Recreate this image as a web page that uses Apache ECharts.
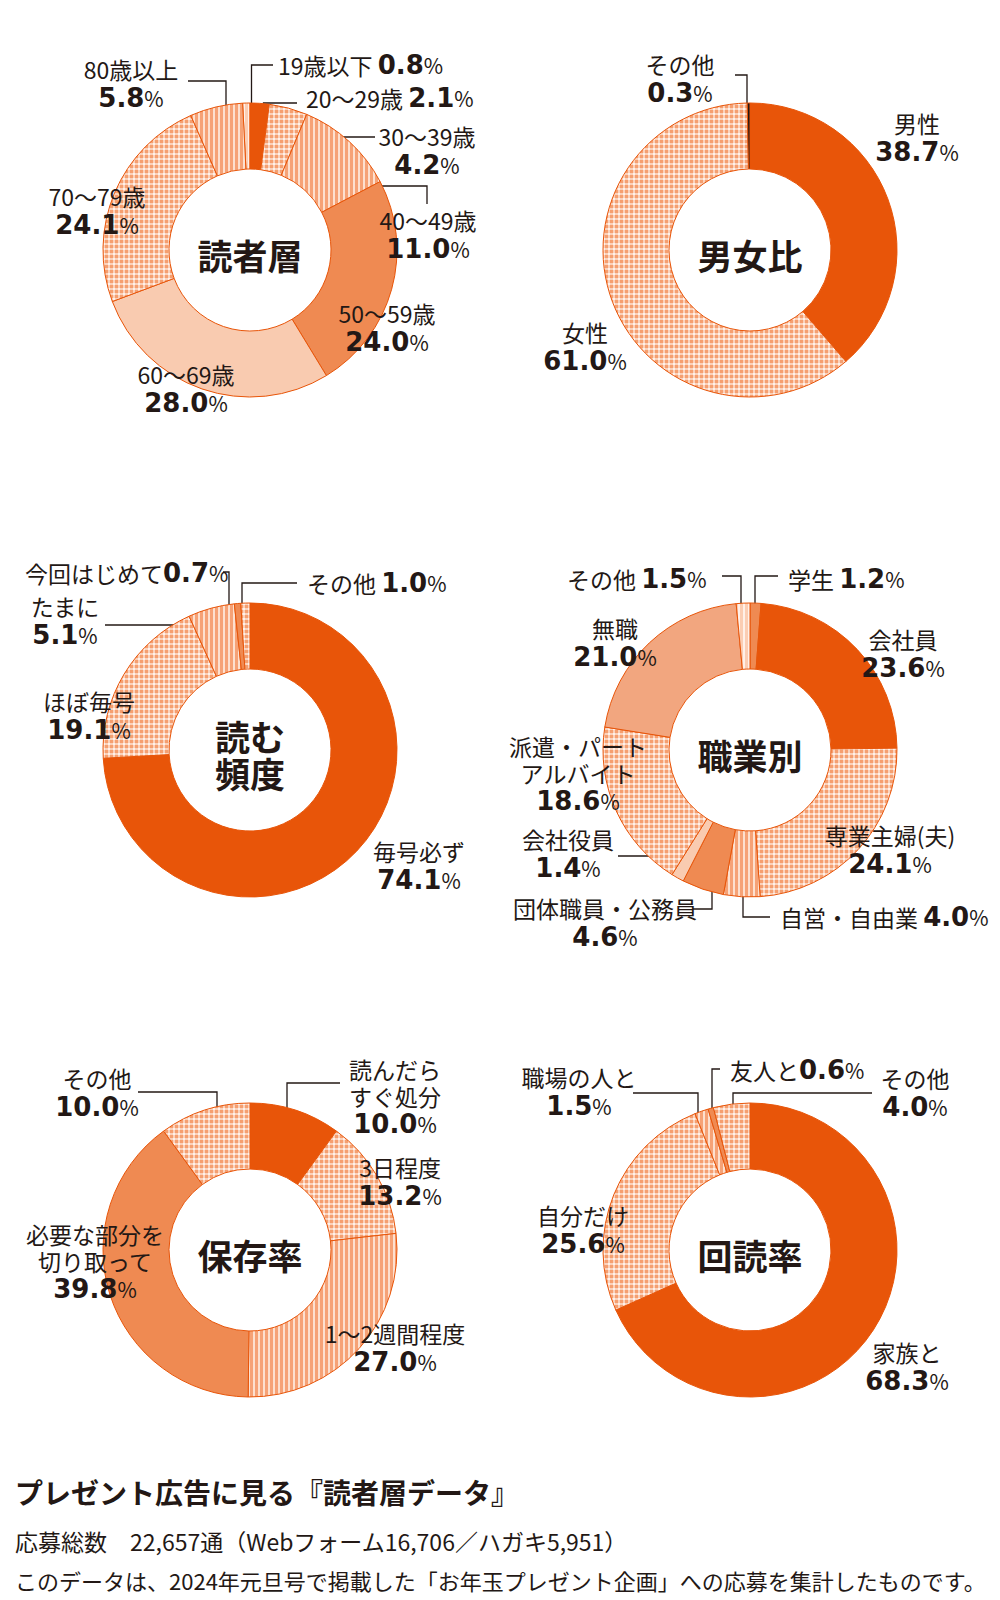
<!DOCTYPE html>
<html><head><meta charset="utf-8">
<script src="https://cdn.jsdelivr.net/npm/echarts@6/dist/echarts.min.js"></script>
<style>html,body{margin:0;padding:0;background:#fff}#c{width:1000px;height:1600px}</style>
</head><body><div id="c"></div>
<script>
// ---------- data ----------
const ageNames = ['19歳以下','20〜29歳','30〜39歳','40〜49歳','50〜59歳','60〜69歳','70〜79歳','80歳以上'];
const ageValues = [0.8, 2.1, 4.2, 11.0, 24.0, 28.0, 24.1, 5.8];
const genderNames = ['男性','女性','その他'];
const genderValues = [38.7, 61.0, 0.3];
const freqNames = ['毎号必ず','ほぼ毎号','たまに','今回はじめて','その他'];
const freqValues = [74.1, 19.1, 5.1, 0.7, 1.0];
const jobNames = ['学生','会社員','専業主婦(夫)','自営・自由業','団体職員・公務員','会社役員','派遣・パート\nアルバイト','無職','その他'];
const jobValues = [1.2, 23.6, 24.1, 4.0, 4.6, 1.4, 18.6, 21.0, 1.5];
const keepNames = ['読んだら\nすぐ処分','3日程度','1〜2週間程度','必要な部分を\n切り取って','その他'];
const keepValues = [10.0, 13.2, 27.0, 39.8, 10.0];
const shareNames = ['家族と','自分だけ','職場の人と','友人と','その他'];
const shareValues = [68.3, 25.6, 1.5, 0.6, 4.0];
const chartTitles = ['読者層','男女比','読む\n頻度','職業別','保存率','回読率'];
const footerTitle = 'プレゼント広告に見る『読者層データ』';
const footerLine1 = '応募総数　22,657通（Webフォーム16,706／ハガキ5,951）';
const footerLine2 = 'このデータは、2024年元旦号で掲載した「お年玉プレゼント企画」への応募を集計したものです。';

// ---------- styles ----------
const INK = '#231815';
const FONT = '"Noto Sans CJK JP", sans-serif';
const NUMFONT = '"DejaVu Sans", sans-serif';
const NAME_SIZE = 23, VAL_SIZE = 26, PCT_SIZE = 21;
function pat(w, h, draw) {
  const c = document.createElement('canvas'); c.width = w; c.height = h;
  const g = c.getContext('2d'); draw(g);
  return { image: c, repeat: 'repeat', imageWidth: w, imageHeight: h };
}
const fills = {
  S: '#e85509', M: '#ef8a52', L: '#f9cbb0', N: '#f2a67f', K: INK,
  D: pat(5, 5, g => {
    g.fillStyle = '#fbd2bb'; g.fillRect(0, 0, 5, 5);
    g.fillStyle = '#f59f70'; g.fillRect(0, 0, 3, 3);
    g.fillStyle = '#fff1ea'; g.fillRect(3, 3, 2, 2);
  }),
  T: pat(5, 5, g => { g.fillStyle = '#fde0cf'; g.fillRect(0, 0, 5, 5); g.fillStyle = '#f6a276'; g.fillRect(0, 0, 3, 5); }),
  P: pat(5, 5, g => { g.fillStyle = '#fff0e8'; g.fillRect(0, 0, 5, 5); g.fillStyle = '#fbcdb3'; g.fillRect(0, 0, 3, 5); })
};
const ageStyles = ['P','S','D','T','M','L','D','T'];
const genderStyles = ['S','D','K'];
const freqStyles = ['S','D','T','M','D'];
const jobStyles = ['M','S','D','T','M','L','D','N','P'];
const keepStyles = ['S','D','T','M','D'];
const shareStyles = ['S','D','T','M','D'];

// label placement (x,y = anchor; a = align; one = single line; sep = separator; line = leader points)
const ageLayout = [
  {x:278, y:65, a:'l', one:true, sep:' ', line:[[251.5,112],[251.5,65],[273,65]]},
  {x:306, y:98, a:'l', one:true, sep:' ', line:[[263.5,112],[263.5,103],[297,103]]},
  {x:427, y:151, line:[[290,137],[375,137]]},
  {x:428, y:235, line:[[329,186],[427,186],[427,204]]},
  {x:387, y:328},
  {x:186, y:389},
  {x:97, y:211},
  {x:131, y:84, line:[[188,81],[226,81],[226,117]]}
];
const genderLayout = [
  {x:917, y:138},
  {x:585, y:347},
  {x:680, y:79, line:[[735,75],[747,75],[747,103]]}
];
const freqLayout = [
  {x:419, y:866},
  {x:89, y:716},
  {x:65, y:621, line:[[105,625],[202,625]]},
  {x:25, y:573, a:'l', one:true, sep:'', line:[[223,572],[229,572],[229,610]]},
  {x:307, y:583, a:'l', one:true, sep:' ', line:[[242,610],[242,583],[297,583]]}
];
const jobLayout = [
  {x:788, y:579, a:'l', one:true, sep:' ', line:[[755,612],[755,576],[778,576]]},
  {x:903, y:654},
  {x:890, y:850},
  {x:780, y:917, a:'l', one:true, sep:' ', line:[[743,873],[743,917],[770,917]]},
  {x:605, y:923, line:[[693,909],[712,909],[712,863]]},
  {x:568, y:854, line:[[618,856],[683,856]]},
  {x:578, y:774},
  {x:615, y:643},
  {x:567, y:579, a:'l', one:true, sep:' ', line:[[722,576],[741,576],[741,612]]}
];
const keepLayout = [
  {x:395, y:1097, line:[[287,1127],[287,1083],[340,1083]]},
  {x:400, y:1182},
  {x:395, y:1348},
  {x:95, y:1262},
  {x:97, y:1093, line:[[138,1092],[217,1092],[217,1117]]}
];
const shareLayout = [
  {x:907, y:1367},
  {x:583, y:1230},
  {x:579, y:1092, line:[[633,1093],[698,1093],[698,1117]]},
  {x:730, y:1070, a:'l', one:true, sep:'', line:[[712,1117],[712,1069],[720,1069]]},
  {x:915, y:1093, line:[[733,1117],[733,1093],[872,1093]]}
];

const RICH = {
  n: {fontSize: NAME_SIZE, lineHeight: 27, fontFamily: FONT, color: INK},
  v: {fontSize: VAL_SIZE, lineHeight: 30, fontWeight: 'bold', fontFamily: NUMFONT, color: INK},
  p: {fontSize: PCT_SIZE, lineHeight: 30, fontFamily: FONT, color: INK}
};
const mctx = document.createElement('canvas').getContext('2d');
function tw(s, font) { mctx.font = font; return mctx.measureText(s).width; }
function labelWidth(name, value, L) {
  const nf = NAME_SIZE + 'px ' + FONT, vf = 'bold ' + VAL_SIZE + 'px ' + NUMFONT, pf = PCT_SIZE + 'px ' + FONT;
  const numW = tw(value.toFixed(1), vf) + tw('%', pf);
  const lines = name.split('\n').map(s => tw(s, nf));
  if (L.one) return Math.ceil(lines[0] + (L.sep ? tw(L.sep, nf) : 0) + numW + 2);
  return Math.ceil(Math.max(numW, ...lines) + 2);
}
function fmt(name, value, L) {
  const num = '{v|' + value.toFixed(1) + '}{p|%}';
  const nameRich = name.split('\n').map(s => '{n|' + s + '}').join('\n');
  return L.one ? nameRich + (L.sep ? '{n|' + L.sep + '}' : '') + num : nameRich + '\n' + num;
}
function makeSeries(names, values, styles, layout, center, startAngle) {
  return {
    type: 'pie', center: center, radius: [81, 147], startAngle: startAngle, clockwise: true,
    avoidLabelOverlap: false, silent: true, animation: false,
    itemStyle: {borderColor: '#e85509', borderWidth: 1},
    emphasis: {disabled: true},
    label: {
      show: true, position: 'outside', overflow: 'none',
      formatter: p => fmt(names[p.dataIndex], values[p.dataIndex], layout[p.dataIndex]),
      rich: RICH
    },
    labelLine: {show: true, lineStyle: {color: INK, width: 1.3}},
    labelLayout: p => {
      const L = layout[p.dataIndex];
      const r = {x: L.x, y: L.y, align: L.a === 'l' ? 'left' : 'center', verticalAlign: 'middle'};
      if (L.line) r.labelLinePoints = L.line.length === 2 ? [L.line[0], L.line[0], L.line[1]] : L.line;
      return r;
    },
    data: names.map((n, i) => ({
      name: n, value: values[i],
      itemStyle: {color: fills[styles[i]]},
      label: {width: labelWidth(n, values[i], layout[i])},
      labelLine: {show: !!layout[i].line}
    }))
  };
}

const centers = [[250,250],[750,250],[250,750],[750,750],[250,1250],[750,1250]];
const series = [
  makeSeries(ageNames, ageValues, ageStyles, ageLayout, centers[0], 90 + ageValues[0] * 3.6),
  makeSeries(genderNames, genderValues, genderStyles, genderLayout, centers[1], 90),
  makeSeries(freqNames, freqValues, freqStyles, freqLayout, centers[2], 90),
  makeSeries(jobNames, jobValues, jobStyles, jobLayout, centers[3], 90),
  makeSeries(keepNames, keepValues, keepStyles, keepLayout, centers[4], 90),
  makeSeries(shareNames, shareValues, shareStyles, shareLayout, centers[5], 90)
];

const graphic = chartTitles.map((t, i) => ({
  type: 'text', x: centers[i][0], y: centers[i][1] + 4, silent: true,
  style: {text: t, fill: INK, font: 'bold 35px ' + FONT, align: 'center', verticalAlign: 'middle', lineHeight: 37}
}));
graphic.push(
  {type: 'text', x: 15, y: 1492, silent: true, style: {text: footerTitle, fill: INK, font: 'bold 28px ' + FONT, align: 'left', verticalAlign: 'middle'}},
  {type: 'text', x: 15, y: 1541, silent: true, style: {text: footerLine1, fill: INK, font: '23px ' + FONT, align: 'left', verticalAlign: 'middle'}},
  {type: 'text', x: 15, y: 1580, silent: true, style: {text: footerLine2, fill: INK, font: '22px ' + FONT, align: 'left', verticalAlign: 'middle'}}
);

const chart = echarts.init(document.getElementById('c'), null, {renderer: 'svg', width: 1000, height: 1600});
chart.setOption({
  backgroundColor: '#ffffff',
  animation: false,
  textStyle: {fontFamily: FONT, color: INK},
  series: series,
  graphic: graphic
});
</script>
</body></html>
